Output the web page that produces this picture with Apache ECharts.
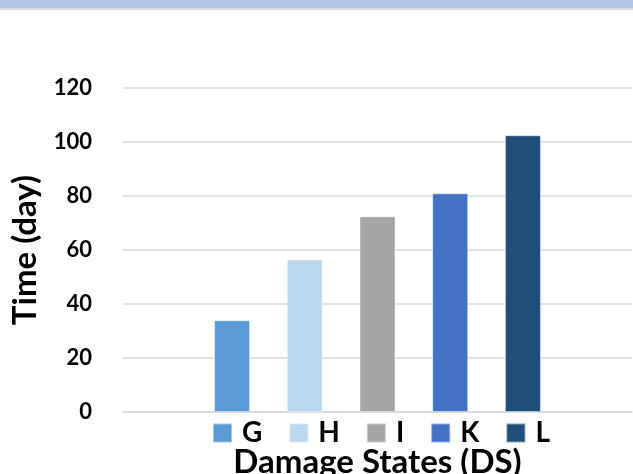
<!DOCTYPE html>
<html>
<head>
<meta charset="utf-8">
<script src="https://cdn.jsdelivr.net/npm/echarts@6/dist/echarts.min.js"></script>
<style>
  html, body { margin: 0; padding: 0; background: #ffffff; }
  #chart { width: 633px; height: 474px; }
</style>
</head>
<body>
<div id="chart"></div>
<script>
// Category slots: blank slots on both ends give the outer padding of the plot
const categories = ['', 'G', 'H', 'I', 'K', 'L', ''];
// Damage state names (one series each) and recovery time in days
const stateNames = ['G', 'H', 'I', 'K', 'L'];
const stateDays = [34, 56.5, 72.5, 81, 102.5];
const stateColors = ['#5b9bd5', '#bdd7ee', '#a5a5a5', '#4472c4', '#1f4e79'];
const yTicks = { min: 0, max: 120, interval: 20 };

const FONT = 'Lato, "Open Sans", sans-serif';

const series = stateNames.map((name, i) => {
  const data = categories.map(() => null);
  data[i + 1] = stateDays[i];
  return {
    name: name,
    type: 'bar',
    stack: 'ds',
    barWidth: 36,
    data: data,
    itemStyle: {
      color: stateColors[i],
      borderColor: 'rgba(255,255,255,0.45)',
      borderWidth: 1
    }
  };
});

const chart = echarts.init(document.getElementById('chart'), null, { renderer: 'canvas' });
chart.setOption({
  animation: false,
  backgroundColor: '#ffffff',
  graphic: [
    { type: 'rect', shape: { x: 0, y: 0, width: 633, height: 8 }, style: { fill: '#b4c7e7' } },
    { type: 'rect', shape: { x: 0, y: 8, width: 633, height: 2 }, style: { fill: '#d9d9d9' } }
  ],
  grid: { left: 123, right: 1, top: 88, bottom: 62, containLabel: false, outerBoundsMode: 'none' },
  legend: {
    data: stateNames,
    left: 207,
    top: 414,
    itemWidth: 19,
    itemHeight: 19,
    itemGap: 26,
    icon: 'rect',
    textStyle: { fontFamily: FONT, fontWeight: 'bold', fontSize: 28, color: '#000', padding: [0, 0, 0, 5] }
  },
  xAxis: {
    type: 'category',
    data: categories,
    name: 'Damage States (DS)',
    nameLocation: 'middle',
    nameGap: 34,
    nameTextStyle: { fontFamily: FONT, fontWeight: 'bold', fontSize: 33, color: '#000' },
    axisLine: { show: true, lineStyle: { color: '#d9d9d9', width: 1.5 } },
    axisTick: { show: false },
    axisLabel: { show: false },
    splitLine: { show: false }
  },
  yAxis: {
    type: 'value',
    min: yTicks.min,
    max: yTicks.max,
    interval: yTicks.interval,
    name: 'Time (day)',
    nameLocation: 'middle',
    nameGap: 81,
    nameRotate: 90,
    nameTextStyle: { fontFamily: FONT, fontWeight: 'bold', fontSize: 33, color: '#000' },
    axisLine: { show: false },
    axisTick: { show: false },
    axisLabel: { fontFamily: FONT, fontWeight: 'bold', fontSize: 22, color: '#000', margin: 31 },
    splitLine: { lineStyle: { color: '#d9d9d9', width: 1.5 } }
  },
  series: series
});
</script>
</body>
</html>
